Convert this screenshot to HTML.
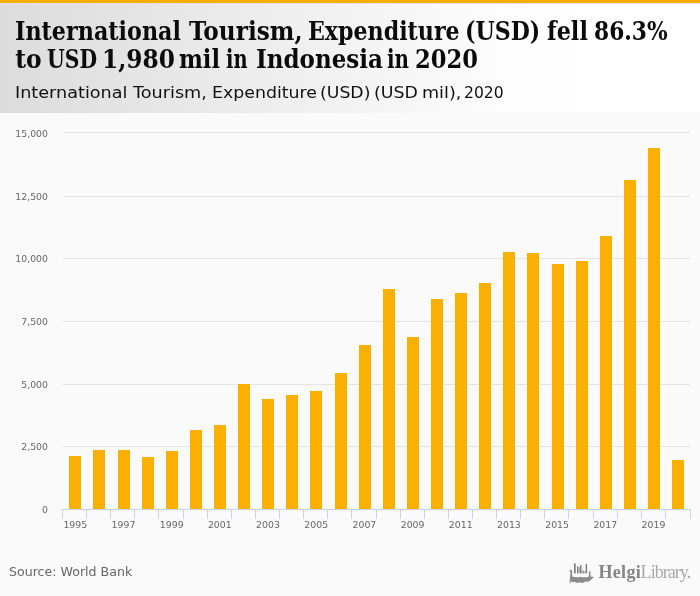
<!DOCTYPE html>
<html><head><meta charset="utf-8"><title>International Tourism, Expenditure (USD) - Indonesia</title>
<style>
html,body{margin:0;padding:0}
body{width:700px;height:596px;position:relative;overflow:hidden;background:#fafafa;font-family:"DejaVu Sans","Liberation Sans",sans-serif}
.top{position:absolute;left:0;top:0;width:700px;height:3px;background:#f9ae00}
.hdr{position:absolute;left:0;top:3px;width:700px;height:110px;background:linear-gradient(to right,#dcdcdc 0,#f3f3f3 50%,#fdfdfd 72%,#ffffff 88%)}
.hl{position:absolute;left:0;top:3px;width:700px;height:1px;background:#e0e2e9}
h1{position:absolute;left:0;top:17px;width:700px;height:56px;margin:0;font-family:"DejaVu Serif Condensed","DejaVu Serif","Liberation Serif",serif;font-weight:bold;font-size:26px;line-height:28px;color:#0b0b0b;white-space:nowrap}
h2{position:absolute;left:0;top:81.3px;width:700px;height:24px;margin:0;font-family:"DejaVu Sans","Liberation Sans",sans-serif;font-weight:normal;font-size:16px;line-height:24px;color:#111;white-space:nowrap}
h1 div{position:absolute;left:0;width:700px;height:28px}.l1{top:0}.l2{top:28px}h1 span,h2 span{position:absolute;top:0;display:inline-block;transform-origin:0 0}
.ax{font-family:"DejaVu Sans","Liberation Sans",sans-serif;font-size:9.35px;fill:#666}
.src{position:absolute;left:9px;top:563px;font-size:12.6px;line-height:18px;color:#666;white-space:nowrap}
.logo{position:absolute;left:560px;top:555px;width:140px;height:41px}
</style></head><body>
<div class="top"></div><div class="hdr"></div><div class="hl"></div>
<h1><div class="l1"><span style="left:15.35px;transform:scaleX(0.9509)">International</span> <span style="left:189.05px;transform:scaleX(0.9933)">Tourism,</span> <span style="left:308.1px;transform:scaleX(0.9462)">Expenditure</span> <span style="left:465.41px;transform:scaleX(0.9441)">(USD)</span> <span style="left:546.84px;transform:scaleX(0.9573)">fell</span> <span style="left:593.87px;transform:scaleX(0.9295)">86.3%</span></div> <div class="l2"><span style="left:15.3px;transform:scaleX(1.0)">to</span> <span style="left:46.93px;transform:scaleX(0.8705)">USD</span> <span style="left:102.31px;transform:scaleX(0.9964)">1,980</span> <span style="left:179.34px;transform:scaleX(0.9634)">mil</span> <span style="left:225.72px;transform:scaleX(0.83)">in</span> <span style="left:255.57px;transform:scaleX(0.9843)">Indonesia</span> <span style="left:386.95px;transform:scaleX(0.85)">in</span> <span style="left:415.36px;transform:scaleX(0.9677)">2020</span></div></h1>
<h2><span style="left:15.2px;transform:scaleX(1.101)">International</span> <span style="left:133.15px;transform:scaleX(1.1023)">Tourism,</span> <span style="left:211.73px;transform:scaleX(1.0851)">Expenditure</span> <span style="left:320.32px;transform:scaleX(1.0795)">(USD)</span> <span style="left:374.06px;transform:scaleX(1.0855)">(USD</span> <span style="left:421.55px;transform:scaleX(1.0985)">mil),</span> <span style="left:463.68px;transform:scaleX(0.9744)">2020</span></h2>
<svg width="700" height="596" viewBox="0 0 700 596" style="position:absolute;left:0;top:0">
<rect x="63" y="132" width="627" height="1" fill="#e4e4e4"/>
<rect x="63" y="196" width="627" height="1" fill="#e4e4e4"/>
<rect x="63" y="258" width="627" height="1" fill="#e4e4e4"/>
<rect x="63" y="321" width="627" height="1" fill="#e4e4e4"/>
<rect x="63" y="384" width="627" height="1" fill="#e4e4e4"/>
<rect x="63" y="446" width="627" height="1" fill="#e4e4e4"/>
<rect x="69" y="456" width="12" height="53" fill="#f9b000"/>
<rect x="93" y="450" width="12" height="59" fill="#f9b000"/>
<rect x="118" y="450" width="12" height="59" fill="#f9b000"/>
<rect x="142" y="457" width="12" height="52" fill="#f9b000"/>
<rect x="166" y="451" width="12" height="58" fill="#f9b000"/>
<rect x="190" y="430" width="12" height="79" fill="#f9b000"/>
<rect x="214" y="425" width="12" height="84" fill="#f9b000"/>
<rect x="238" y="384" width="12" height="125" fill="#f9b000"/>
<rect x="262" y="399" width="12" height="110" fill="#f9b000"/>
<rect x="286" y="395" width="12" height="114" fill="#f9b000"/>
<rect x="310" y="391" width="12" height="118" fill="#f9b000"/>
<rect x="335" y="373" width="12" height="136" fill="#f9b000"/>
<rect x="359" y="345" width="12" height="164" fill="#f9b000"/>
<rect x="383" y="289" width="12" height="220" fill="#f9b000"/>
<rect x="407" y="337" width="12" height="172" fill="#f9b000"/>
<rect x="431" y="299" width="12" height="210" fill="#f9b000"/>
<rect x="455" y="293" width="12" height="216" fill="#f9b000"/>
<rect x="479" y="283" width="12" height="226" fill="#f9b000"/>
<rect x="503" y="252" width="12" height="257" fill="#f9b000"/>
<rect x="527" y="253" width="12" height="256" fill="#f9b000"/>
<rect x="552" y="264" width="12" height="245" fill="#f9b000"/>
<rect x="576" y="261" width="12" height="248" fill="#f9b000"/>
<rect x="600" y="236" width="12" height="273" fill="#f9b000"/>
<rect x="624" y="180" width="12" height="329" fill="#f9b000"/>
<rect x="648" y="148" width="12" height="361" fill="#f9b000"/>
<rect x="672" y="460" width="12" height="49" fill="#f9b000"/>
<rect x="62" y="509" width="629" height="1" fill="#c6d3ea"/>
<rect x="62" y="509" width="1" height="10" fill="#c6d3ea"/>
<rect x="86" y="509" width="1" height="10" fill="#c6d3ea"/>
<rect x="110" y="509" width="1" height="10" fill="#c6d3ea"/>
<rect x="134" y="509" width="1" height="10" fill="#c6d3ea"/>
<rect x="158" y="509" width="1" height="10" fill="#c6d3ea"/>
<rect x="183" y="509" width="1" height="10" fill="#c6d3ea"/>
<rect x="207" y="509" width="1" height="10" fill="#c6d3ea"/>
<rect x="231" y="509" width="1" height="10" fill="#c6d3ea"/>
<rect x="255" y="509" width="1" height="10" fill="#c6d3ea"/>
<rect x="279" y="509" width="1" height="10" fill="#c6d3ea"/>
<rect x="303" y="509" width="1" height="10" fill="#c6d3ea"/>
<rect x="327" y="509" width="1" height="10" fill="#c6d3ea"/>
<rect x="351" y="509" width="1" height="10" fill="#c6d3ea"/>
<rect x="376" y="509" width="1" height="10" fill="#c6d3ea"/>
<rect x="400" y="509" width="1" height="10" fill="#c6d3ea"/>
<rect x="424" y="509" width="1" height="10" fill="#c6d3ea"/>
<rect x="448" y="509" width="1" height="10" fill="#c6d3ea"/>
<rect x="472" y="509" width="1" height="10" fill="#c6d3ea"/>
<rect x="496" y="509" width="1" height="10" fill="#c6d3ea"/>
<rect x="520" y="509" width="1" height="10" fill="#c6d3ea"/>
<rect x="544" y="509" width="1" height="10" fill="#c6d3ea"/>
<rect x="568" y="509" width="1" height="10" fill="#c6d3ea"/>
<rect x="593" y="509" width="1" height="10" fill="#c6d3ea"/>
<rect x="617" y="509" width="1" height="10" fill="#c6d3ea"/>
<rect x="641" y="509" width="1" height="10" fill="#c6d3ea"/>
<rect x="665" y="509" width="1" height="10" fill="#c6d3ea"/>
<rect x="690" y="509" width="1" height="10" fill="#c6d3ea"/>
<text x="48" y="136.9" text-anchor="end" class="ax">15,000</text>
<text x="48" y="199.8" text-anchor="end" class="ax">12,500</text>
<text x="48" y="262" text-anchor="end" class="ax">10,000</text>
<text x="48" y="325" text-anchor="end" class="ax">7,500</text>
<text x="48" y="388" text-anchor="end" class="ax">5,000</text>
<text x="48" y="450" text-anchor="end" class="ax">2,500</text>
<text x="48" y="513" text-anchor="end" class="ax">0</text>
<text x="75.3" y="527.8" text-anchor="middle" class="ax">1995</text>
<text x="123.5" y="527.8" text-anchor="middle" class="ax">1997</text>
<text x="171.7" y="527.8" text-anchor="middle" class="ax">1999</text>
<text x="219.8" y="527.8" text-anchor="middle" class="ax">2001</text>
<text x="268.0" y="527.8" text-anchor="middle" class="ax">2003</text>
<text x="316.2" y="527.8" text-anchor="middle" class="ax">2005</text>
<text x="364.4" y="527.8" text-anchor="middle" class="ax">2007</text>
<text x="412.6" y="527.8" text-anchor="middle" class="ax">2009</text>
<text x="460.7" y="527.8" text-anchor="middle" class="ax">2011</text>
<text x="508.9" y="527.8" text-anchor="middle" class="ax">2013</text>
<text x="557.1" y="527.8" text-anchor="middle" class="ax">2015</text>
<text x="605.3" y="527.8" text-anchor="middle" class="ax">2017</text>
<text x="653.5" y="527.8" text-anchor="middle" class="ax">2019</text>
</svg>
<div class="src">Source: World Bank</div>
<svg class="logo" viewBox="560 555 140 41">
<g fill="#b9b9b9">
<rect x="578.3" y="567.2" width="1.7" height="6.2"/><rect x="581.4" y="569.6" width="1.7" height="3.8"/><rect x="584" y="571.2" width="1.6" height="2.2"/>
</g>
<g fill="#7e7e7e">
<rect x="574" y="563.4" width="1.7" height="10"/><rect x="577" y="566.3" width="1.3" height="7.1"/><rect x="580" y="564.9" width="1.4" height="8.5"/><rect x="583.1" y="570.9" width="0.9" height="2.5"/><rect x="585.6" y="564" width="1.5" height="9.4"/>
</g>
<path fill="#8b8b8b" d="M569.2 571.7 Q570.2 569.3 571.4 569.5 Q572.3 570.6 572.1 573 L572.3 576.6 Q576 578 580.5 576.8 Q585 578 588.9 576.4 L589.1 571 L590.4 571.6 L590.7 576.6 L594 577 L590.8 580 Q588 582.8 585.5 581.2 Q583 584.2 580 582.2 Q577 583.8 574.5 581.8 Q572.5 582.8 571.4 581.2 L569.3 583.8 L569.9 579 Q570.2 575 570.6 572.6 Q570 571.5 569.2 571.7Z"/>
<text x="598.5" y="577.8" font-family="'Liberation Serif','DejaVu Serif',serif" font-size="18" font-weight="bold" fill="#858585" letter-spacing="0.3">Helgi</text>
<text x="640.6" y="577.8" font-family="'Liberation Serif','DejaVu Serif',serif" font-size="18" fill="#a9a9a9" letter-spacing="-0.95">Library.</text>
</svg>
</body></html>
